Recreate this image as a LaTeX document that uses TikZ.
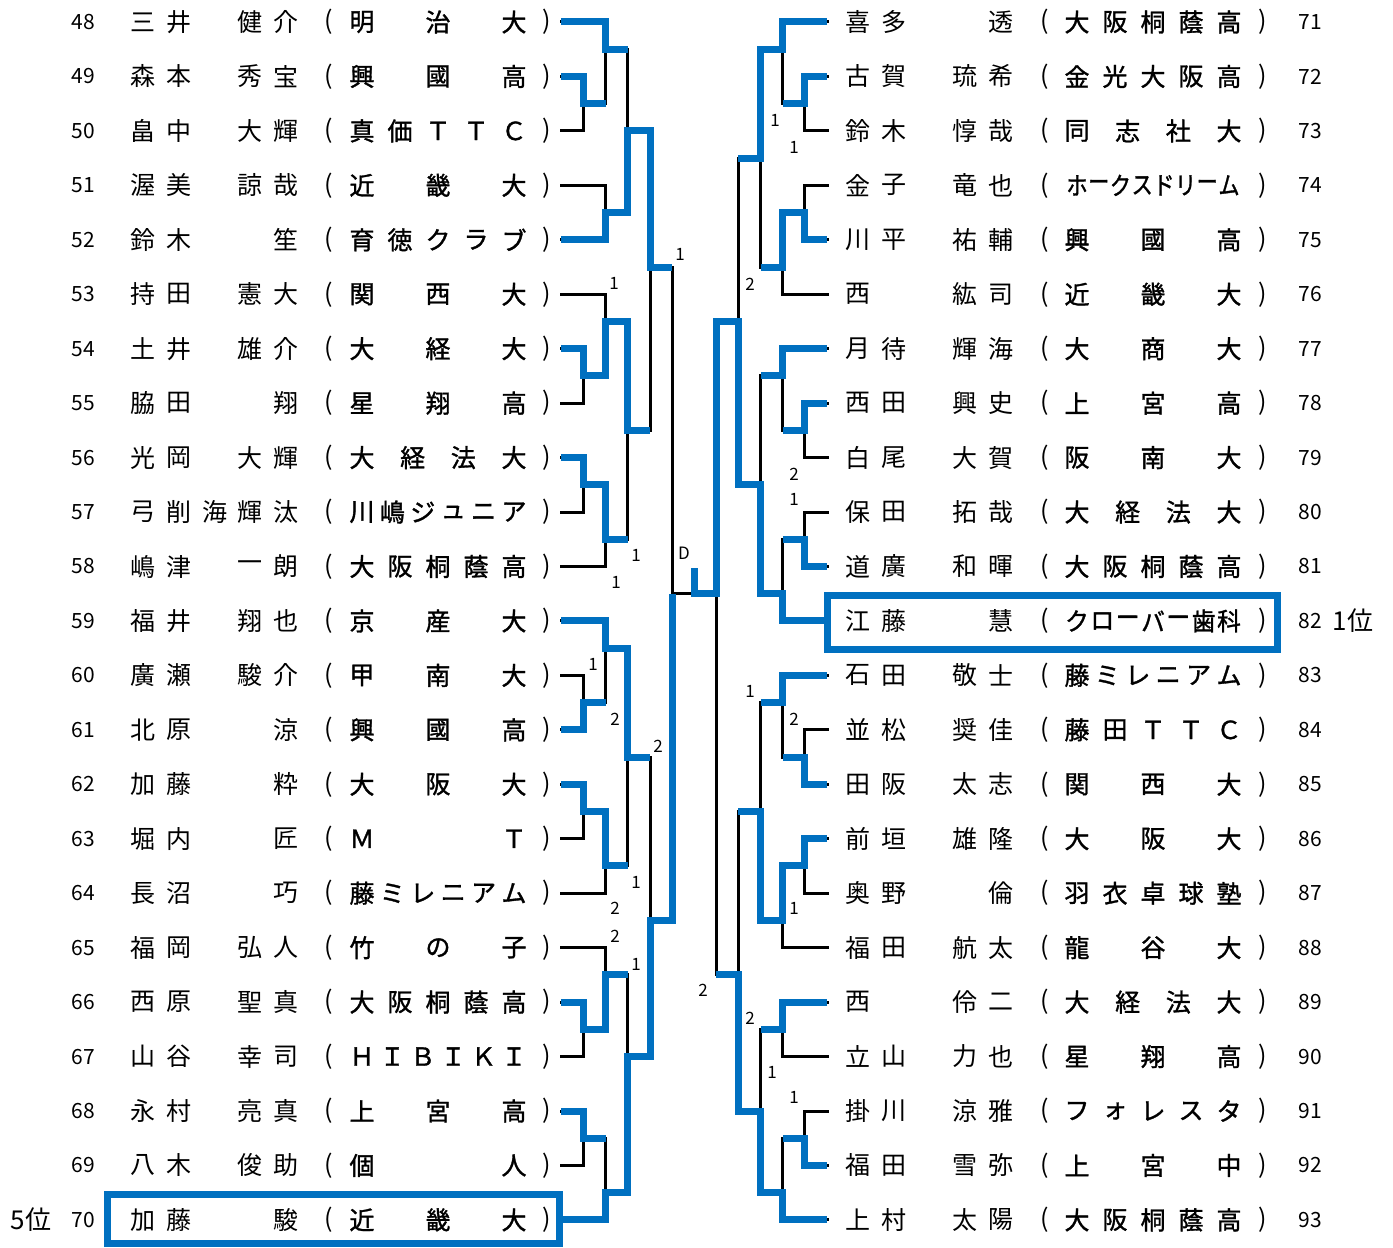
\documentclass[tikz,border=0pt]{standalone}
\usepackage{graphicx}
\usepackage{fontspec}
\setmainfont{Noto Sans CJK JP}
\newfontfamily\clubfont[FakeBold=1.3]{Noto Sans CJK JP}
\definecolor{winblue}{RGB}{0,112,192}

% characters spread evenly between two centres (distributed cells)
\newcommand\squeeze[1]{\ifnum\spreadn>7 \scalebox{0.85}[1]{#1}\else\ifnum\spreadn>6 \scalebox{0.95}[1]{#1}\else #1\fi\fi}
\newcommand\spreadrow[6][glyph]{%
  \edef\spreadlist{#6}%
  \gdef\spreadn{0}%
  \foreach \ch in \spreadlist {\xdef\spreadn{\the\numexpr\spreadn+1\relax}}%
  \foreach \ch [count=\i] in \spreadlist {
    \node[#1] (#2-\i) at ({#3+(\i-1)*(#4-#3)/(\spreadn-1)}, #5) {\squeeze{\ch}};
  }%
}

\begin{document}
\begin{tikzpicture}[x=1pt, y=-27.225pt]
    \tikzset{
        glyph/.style={inner sep=0pt, font=\fontsize{25}{30}\selectfont},
        club/.style={inner sep=0pt, font=\fontsize{25}{30}\clubfont},
        seed/.style={inner sep=0pt, font=\fontsize{21}{25}\selectfont},
        score/.style={inner sep=0pt, font=\fontsize{17}{20}\selectfont},
        rank/.style={inner sep=0pt, font=\fontsize{26}{30}\selectfont},
        bk/.style={line width=3pt, line cap=rect},
        win/.style={line width=7pt, draw=winblue},
        result/.style={line width=7pt, draw=winblue}
    }
    \useasboundingbox (0,-0.808) rectangle (1393,45.032);

    % left block
    \foreach \num/\nm/\cl [count=\r from 0] in {
        48/{三,井,　,健,介}/{明,治,大},
        49/{森,本,　,秀,宝}/{興,國,高},
        50/{畠,中,　,大,輝}/{真,価,Ｔ,Ｔ,Ｃ},
        51/{渥,美,　,諒,哉}/{近,畿,大},
        52/{鈴,木,　,　,笙}/{育,徳,ク,ラ,ブ},
        53/{持,田,　,憲,大}/{関,西,大},
        54/{土,井,　,雄,介}/{大,経,大},
        55/{脇,田,　,　,翔}/{星,翔,高},
        56/{光,岡,　,大,輝}/{大,経,法,大},
        57/{弓,削,海,輝,汰}/{川,嶋,ジ,ュ,ニ,ア},
        58/{嶋,津,　,一,朗}/{大,阪,桐,蔭,高},
        59/{福,井,　,翔,也}/{京,産,大},
        60/{廣,瀬,　,駿,介}/{甲,南,大},
        61/{北,原,　,　,涼}/{興,國,高},
        62/{加,藤,　,　,粋}/{大,阪,大},
        63/{堀,内,　,　,匠}/{Ｍ,Ｔ},
        64/{長,沼,　,　,巧}/{藤,ミ,レ,ニ,ア,ム},
        65/{福,岡,　,弘,人}/{竹,の,子},
        66/{西,原,　,聖,真}/{大,阪,桐,蔭,高},
        67/{山,谷,　,幸,司}/{Ｈ,Ｉ,Ｂ,Ｉ,Ｋ,Ｉ},
        68/{永,村,　,亮,真}/{上,宮,高},
        69/{八,木,　,俊,助}/{個,人},
        70/{加,藤,　,　,駿}/{近,畿,大}} {
        \node[seed] (num\num) at (83,2*\r) {\num};
        \spreadrow{nm\num}{143}{286}{2*\r}{\nm}
        \node[glyph] (lp\num) at (329,2*\r) {(};
        \spreadrow[club]{cl\num}{362}{514}{2*\r}{\cl}
        \node[glyph] (rp\num) at (547,2*\r) {)};
        \coordinate (e\num) at (561,2*\r);
    }

    % right block
    \foreach \num/\nm/\cl [count=\r from 0] in {
        71/{喜,多,　,　,透}/{大,阪,桐,蔭,高},
        72/{古,賀,　,琉,希}/{金,光,大,阪,高},
        73/{鈴,木,　,惇,哉}/{同,志,社,大},
        74/{金,子,　,竜,也}/{ホ,ー,ク,ス,ド,リ,ー,ム},
        75/{川,平,　,祐,輔}/{興,國,高},
        76/{西,　,　,紘,司}/{近,畿,大},
        77/{月,待,　,輝,海}/{大,商,大},
        78/{西,田,　,興,史}/{上,宮,高},
        79/{白,尾,　,大,賀}/{阪,南,大},
        80/{保,田,　,拓,哉}/{大,経,法,大},
        81/{道,廣,　,和,暉}/{大,阪,桐,蔭,高},
        82/{江,藤,　,　,慧}/{ク,ロ,ー,バ,ー,歯,科},
        83/{石,田,　,敬,士}/{藤,ミ,レ,ニ,ア,ム},
        84/{並,松,　,奨,佳}/{藤,田,Ｔ,Ｔ,Ｃ},
        85/{田,阪,　,太,志}/{関,西,大},
        86/{前,垣,　,雄,隆}/{大,阪,大},
        87/{奥,野,　,　,倫}/{羽,衣,卓,球,塾},
        88/{福,田,　,航,太}/{龍,谷,大},
        89/{西,　,　,伶,二}/{大,経,法,大},
        90/{立,山,　,力,也}/{星,翔,高},
        91/{掛,川,　,涼,雅}/{フ,ォ,レ,ス,タ},
        92/{福,田,　,雪,弥}/{上,宮,中},
        93/{上,村,　,太,陽}/{大,阪,桐,蔭,高}} {
        \node[seed] (num\num) at (1310,2*\r) {\num};
        \spreadrow{nm\num}{858}{1001}{2*\r}{\nm}
        \node[glyph] (lp\num) at (1045,2*\r) {(};
        \spreadrow[club]{cl\num}{1077}{1229}{2*\r}{\cl}
        \node[glyph] (rp\num) at (1263,2*\r) {)};
        \coordinate (e\num) at (827,2*\r);
    }

    % entry stubs
    \foreach \p/\c in {48/605.5, 49/583.5, 50/583.5, 51/605.5, 52/605.5, 53/605.5,
        54/583.5, 55/583.5, 56/583.5, 57/583.5, 58/605.5, 59/605.5, 60/583.5,
        61/583.5, 62/583.5, 63/583.5, 64/605.5, 65/605.5, 66/583.5, 67/583.5,
        68/583.5, 69/583.5, 70/605.5}
        \draw[bk] (e\p) -- ++(\c-561,0);
    \foreach \p/\c in {71/782.5, 72/804.5, 73/804.5, 74/804.5, 75/804.5, 76/782.5,
        77/782.5, 78/804.5, 79/804.5, 80/804.5, 81/804.5, 82/782.5, 83/782.5,
        84/804.5, 85/804.5, 86/804.5, 87/804.5, 88/782.5, 89/782.5, 90/782.5,
        91/804.5, 92/804.5, 93/782.5}
        \draw[bk] (e\p) -- ++(\c-827,0);

    % matches: column / top / bottom / junction / next column
    \foreach \x/\a/\b/\j/\n in {
        583.5/2/4/3/605.5, 583.5/12/14/13/605.5, 583.5/16/18/17/605.5,
        583.5/24/26/25/605.5, 583.5/28/30/29/605.5, 583.5/36/38/37/605.5,
        583.5/40/42/41/605.5,
        605.5/0/3/1/627.5, 605.5/6/8/7/627.5, 605.5/10/13/11/627.5,
        605.5/17/20/19/627.5, 605.5/22/25/23/627.5, 605.5/29/32/31/627.5,
        605.5/34/37/35/627.5, 605.5/41/44/43/627.5,
        627.5/1/7/4/650, 627.5/11/19/15/650, 627.5/23/31/27/650, 627.5/35/43/38/650,
        650/4/15/9/672, 650/27/38/33/672, 672/9/33/21/672,
        804.5/2/4/3/782.5, 804.5/6/8/7/782.5, 804.5/14/16/15/782.5,
        804.5/18/20/19/782.5, 804.5/26/28/27/782.5, 804.5/30/32/31/782.5,
        804.5/40/42/41/782.5,
        782.5/0/3/1/760.5, 782.5/7/10/9/760.5, 782.5/12/15/13/760.5,
        782.5/19/22/21/760.5, 782.5/24/27/25/760.5, 782.5/31/34/33/760.5,
        782.5/36/38/37/760.5, 782.5/41/44/43/760.5,
        760.5/1/9/5/738, 760.5/13/21/17/738, 760.5/25/33/29/738, 760.5/37/43/40/738,
        738/5/17/11/716, 738/29/40/35/716, 716/11/35/21/716} {
        \draw[bk] (\x,\a) -- (\x,\b);
        \draw[bk] (\x,\j) -- (\n,\j);
    }
    \coordinate (finL) at (672,21);
    \coordinate (finR) at (716,21);
    \draw[bk] (finL) -- (finR);

    % winners
    \draw[win] (e48) -| (605.5,1) -- (627.5,1);
    \draw[win] (e49) -| (583.5,3) -- (605.5,3);
    \draw[win] (e52) -| (605.5,7) -| (627.5,4) -| (650,9) -- (672,9);
    \draw[win] (e54) -| (583.5,13) -| (605.5,11) -| (627.5,15) -- (650,15);
    \draw[win] (e56) -| (583.5,17) -| (605.5,19) -- (627.5,19);
    \draw[win] (e59) -| (605.5,23) -| (627.5,27) -- (650,27);
    \draw[win] (e61) -| (583.5,25) -- (605.5,25);
    \draw[win] (e62) -| (583.5,29) -| (605.5,31) -- (627.5,31);
    \draw[win] (e66) -| (583.5,37) -| (605.5,35) -- (627.5,35);
    \draw[win] (e68) -| (583.5,41) -- (605.5,41);
    \draw[win] (e70) -| (605.5,43) -| (627.5,38) -| (650,33) -| (finL);
    \draw[win] (e71) -| (782.5,1) -| (760.5,5) -- (738,5);
    \draw[win] (e72) -| (804.5,3) -- (782.5,3);
    \draw[win] (e75) -| (804.5,7) -| (782.5,9) -- (760.5,9);
    \draw[win] (e77) -| (782.5,13) -- (760.5,13);
    \draw[win] (e78) -| (804.5,15) -- (782.5,15);
    \draw[win] (e81) -| (804.5,19) -- (782.5,19);
    \draw[win] (e82) -| (782.5,21) -| (760.5,17) -| (738,11) -| (finR) -| (694,20.05);
    \draw[win] (e83) -| (782.5,25) -- (760.5,25);
    \draw[win] (e85) -| (804.5,27) -- (782.5,27);
    \draw[win] (e86) -| (804.5,31) -| (782.5,33) -| (760.5,29) -- (738,29);
    \draw[win] (e89) -| (782.5,37) -- (760.5,37);
    \draw[win] (e92) -| (804.5,41) -- (782.5,41);
    \draw[win] (e93) -| (782.5,43) -| (760.5,40) -| (738,35) -- (716,35);

    % scores
    \foreach \t/\x/\y [count=\i] in {1/680/8.55, 1/614/9.6, 1/636/19.6, 1/616/20.6,
        1/593/23.6, 2/615/25.6, 2/658/26.6, 1/636/31.6, 2/615/32.55, 2/615/33.6,
        1/636/34.6, D/684/19.5, 1/775/3.6, 1/794/4.6, 2/750/9.65, 2/794/16.6,
        1/794/17.55, 1/750/24.6, 2/794/25.6, 1/794/32.55, 2/703/35.55, 2/750/36.6,
        1/772/38.6, 1/794/39.5}
        \node[score] (sc\i) at (\x,\y) {\t};

    % placings
    \draw[result] (107.5,43.07) rectangle (559.5,44.87);
    \draw[result] (827.5,21.05) rectangle (1277.5,23.05);
    \node[rank] (rank5) at (31,44) {5位};
    \node[rank] (rank1) at (1353,22) {1位};
\end{tikzpicture}
\end{document}
